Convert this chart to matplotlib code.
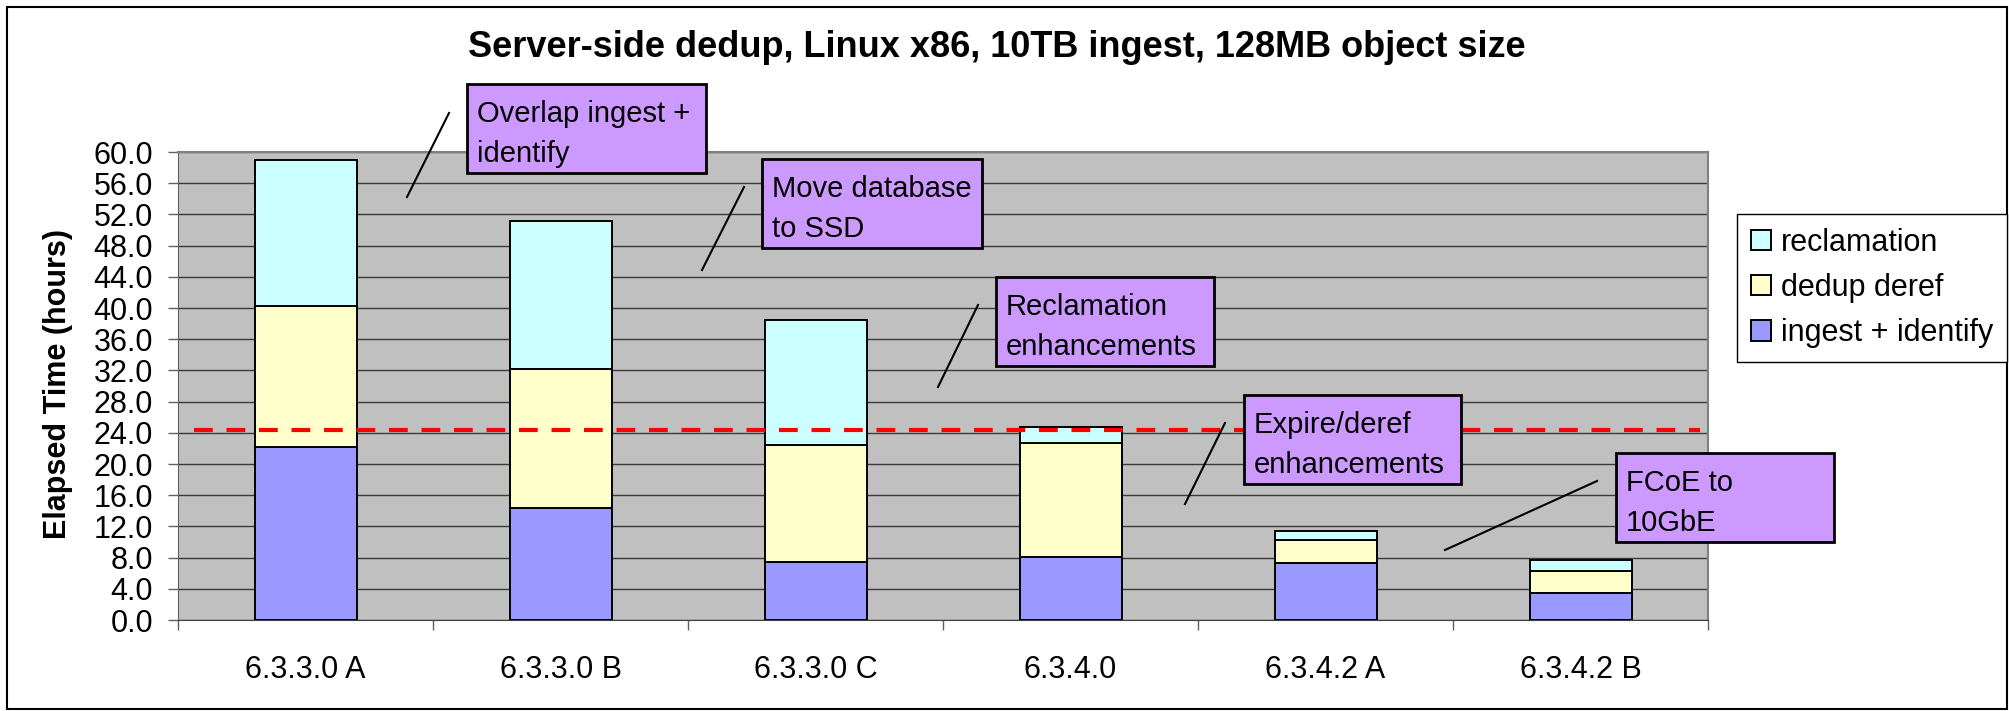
import matplotlib
matplotlib.use('Agg')
import matplotlib.pyplot as plt
from matplotlib.patches import Rectangle
from matplotlib.lines import Line2D
import numpy as np

plt.rcParams['font.family'] = ['Liberation Sans', 'DejaVu Sans']

# data (hours)
versions = ['6.3.3.0 A', '6.3.3.0 B', '6.3.3.0 C', '6.3.4.0', '6.3.4.2 A', '6.3.4.2 B']
ingest_identify = [22.2, 14.4, 7.5, 8.1, 7.3, 3.4]
dedup_deref = [18.1, 17.8, 15.0, 14.6, 2.9, 2.9]
reclamation = [18.7, 19.0, 16.0, 2.0, 1.2, 1.4]
target_hours = 24.3
y_ticks = list(range(0, 61, 4))

title = 'Server-side dedup, Linux x86, 10TB ingest, 128MB object size'
notes = ['Overlap ingest +\nidentify', 'Move database\nto SSD',
         'Reclamation\nenhancements', 'Expire/deref\nenhancements',
         'FCoE to\n10GbE']

# layout of the call-out boxes, in pixels from the top left of the picture
W, H = 2009, 711
note_boxes = [(467, 84, 706, 173), (762, 159, 982, 248), (996, 277, 1214, 366),
              (1244, 395, 1461, 484), (1616, 453, 1834, 542)]
note_leaders = [((449, 113), (407, 197)), ((744, 187), (702, 270)),
                ((978, 305), (938, 387)), ((1225, 423), (1185, 504)),
                ((1597, 481), (1445, 550))]

c_ingest = '#9999FF'
c_dedup = '#FFFFCC'
c_recl = '#CCFFFF'
c_note = '#CC99FF'


def fx(x):
    return x / W


def fy(y):
    return 1 - y / H


fig = plt.figure(figsize=(W / 100, H / 100), dpi=100)
ax = fig.add_axes([fx(178), fy(620), (1708 - 178) / W, (620 - 152) / H])
ax.set_facecolor('#C0C0C0')

x = np.arange(len(versions))
bottom2 = np.array(ingest_identify)
bottom3 = bottom2 + np.array(dedup_deref)
b1 = ax.bar(x, ingest_identify, 0.4, color=c_ingest, edgecolor='black', lw=1.4,
            label='ingest + identify', zorder=3)
b2 = ax.bar(x, dedup_deref, 0.4, bottom=bottom2, color=c_dedup, edgecolor='black',
            lw=1.4, label='dedup deref', zorder=3)
b3 = ax.bar(x, reclamation, 0.4, bottom=bottom3, color=c_recl, edgecolor='black',
            lw=1.4, label='reclamation', zorder=3)

# 24 hour target line
ax.plot([-0.437, 5.47], [target_hours, target_hours], color='#FF0000', lw=3,
        dashes=(4.5, 3.3), zorder=4)

ax.set_xlim(-0.5, 5.5)
ax.set_ylim(0, 60)
ax.set_yticks(y_ticks)
ax.set_yticklabels(['%.1f' % v for v in y_ticks], fontsize=22)
ax.yaxis.grid(True, color='#3a3a3a', lw=1.0)
ax.set_axisbelow(True)
ax.tick_params(axis='y', length=7, width=1, color='#606060', pad=11)

ax.set_xticks(x)
ax.set_xticklabels(versions, fontsize=22)
ax.set_xticks(np.arange(-0.5, 6, 1), minor=True)
ax.tick_params(axis='x', which='major', length=0, pad=25)
ax.tick_params(axis='x', which='minor', length=7, width=1, color='#606060')

for s in ['top', 'right']:
    ax.spines[s].set_color('#808080')
    ax.spines[s].set_linewidth(1.5)
ax.spines['left'].set_color('#606060')
ax.spines['bottom'].set_color('#404040')

fig.text(fx(58), fy(384), 'Elapsed Time (hours)', rotation=90, fontsize=22,
         fontweight='bold', ha='center', va='center')
fig.text(fx(997), fy(57), title, fontsize=26, fontweight='bold', ha='center',
         va='baseline')

leg = fig.legend(handles=[b3, b2, b1], loc='upper left',
                 bbox_to_anchor=(fx(1737), fy(214)), fontsize=22, frameon=True,
                 fancybox=False, framealpha=1, edgecolor='black',
                 handlelength=0.65, handleheight=0.65, handletextpad=0.35,
                 labelspacing=0.5, borderpad=0.45, borderaxespad=0)
leg.get_frame().set_linewidth(1.0)

# call-out boxes with their leader lines
for text, (x0, y0, x1, y1), (p, q) in zip(notes, note_boxes, note_leaders):
    fig.add_artist(Rectangle((fx(x0), fy(y1)), (x1 - x0) / W, (y1 - y0) / H,
                             facecolor=c_note, edgecolor='black', lw=2,
                             transform=fig.transFigure, zorder=5))
    for i, line in enumerate(text.split('\n')):
        fig.text(fx(x0 + 10), fy(y0 + 38 + i * 40), line, fontsize=21,
                 ha='left', va='baseline', zorder=6)
    fig.add_artist(Line2D([fx(p[0]), fx(q[0])], [fy(p[1]), fy(q[1])],
                          color='black', lw=1.5, transform=fig.transFigure,
                          zorder=5))

# outer border of the chart
fig.add_artist(Rectangle((fx(7), fy(709)), 2000 / W, 702 / H, fill=False,
                         edgecolor='black', lw=1.5, transform=fig.transFigure))

fig.savefig('out.png', dpi=100)
